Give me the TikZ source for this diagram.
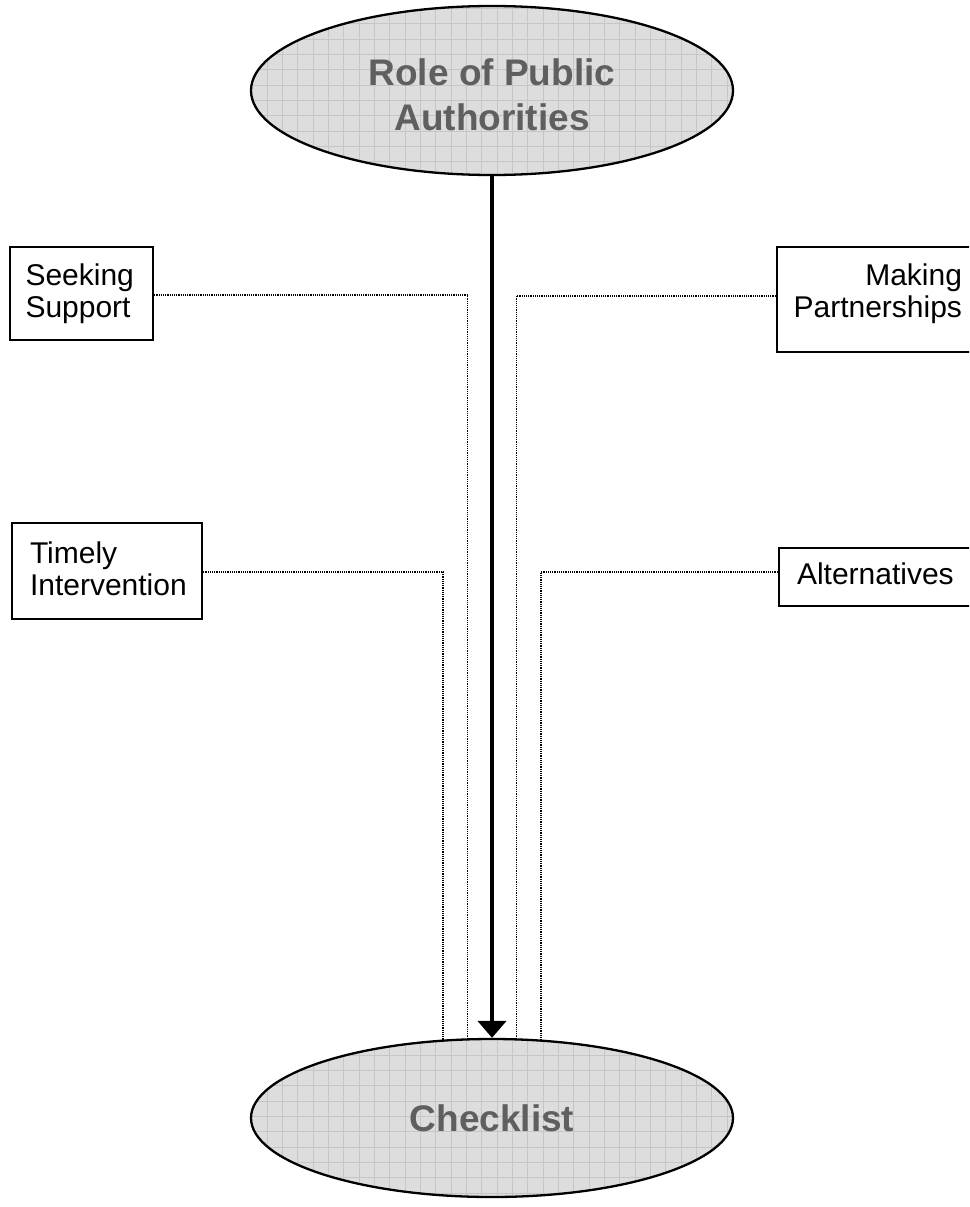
\documentclass[tikz,border=0pt]{standalone}
\usepackage{fontspec}
\setmainfont{Liberation Sans}
\usetikzlibrary{shapes.geometric,arrows.meta,calc}

\definecolor{ovalfill}{HTML}{DDDDDD}
\definecolor{ovalgrid}{HTML}{C6C6C6}
\definecolor{ovaltext}{HTML}{5F5F5F}

% vertical struts used to place the text lines inside their frames
\newcommand\padabove[1]{\rule{0pt}{#1}}
\newcommand\padbelow[1]{\rule[-#1]{0pt}{0pt}}

\tikzset{
  gridline/.style={draw=ovalgrid, line width=0.8pt},
  % light square grid painted inside a shape; #1/#2 = offsets of the grid lines
  gridfill/.style 2 args={path picture={
    \foreach \k in {-17,...,17} {
      \draw[gridline] ($(path picture bounding box.center)+(#1+\k*15.33,-110)$) -- ++(0,220);
    }
    \foreach \k in {-7,...,7} {
      \draw[gridline] ($(path picture bounding box.center)+(-260,#2+\k*15.33)$) -- ++(520,0);
    }
  }},
  oval/.style={ellipse, draw=black, line width=2.3pt, fill=ovalfill,
    minimum width=482pt, inner sep=0pt, align=center, text=ovaltext,
    font=\fontsize{37}{45}\selectfont\bfseries},
  labelbox/.style={rectangle, draw=black, line width=2.3pt, fill=white,
    inner ysep=0pt, font=\fontsize{30}{32}\selectfont},
  link/.style={draw=black, line width=1.2pt, dash pattern=on 1.2pt off 1pt},
  mainflow/.style={draw=black, line width=4.6pt,
    -{Triangle[width=28pt,length=17pt]}}
}

\begin{document}
\begin{tikzpicture}[x=1pt, y=-1pt]
  \useasboundingbox (0,0) rectangle (969,1207);
  \fill[white] (0,0) rectangle (969,1207);
  \clip (0,0) rectangle (969,1207);

  % the two ovals
  \node[oval, gridfill={4.98}{9.78}, minimum height=169pt] (rpa) at (492,90.5)
    {\padabove{35pt}Role of Public\\Authorities};
  \node[oval, gridfill={4.98}{13.65}, minimum height=158pt] (ck) at (492,1118)
    {Checklist};

  % side boxes
  \node[labelbox, text width=112pt, inner xsep=15.5pt, minimum height=93pt,
        align=left] (ss) at (81.5,293.5) {Seeking\\Support};
  \node[labelbox, text width=154pt, inner xsep=18pt, minimum height=96pt,
        align=left] (ti) at (107,571) {Timely\\Intervention\padbelow{5pt}};
  \node[labelbox, text width=170pt, inner xsep=15pt, minimum height=105pt,
        align=right] (mp) at (877,299.5) {Making\\Partnerships\padbelow{18.5pt}};
  \node[labelbox, text width=160pt, inner xsep=18pt, minimum height=58pt,
        align=left] (al) at (877,577) {Alternatives\padbelow{7.5pt}};

  % dotted links into the checklist
  \draw[link] ($(ss.east)+(0,1.5)$) -| (ck.107.65);
  \draw[link] ($(ti.east)+(0,1)$) -| (ck.122.35);
  \draw[link] ($(mp.west)+(0,-3.5)$) -| (ck.73.02);
  \draw[link] ($(al.west)+(0,-5)$) -| (ck.58.76);

  % main flow
  \draw[mainflow] (rpa.south) -- (ck.north);
\end{tikzpicture}
\end{document}
